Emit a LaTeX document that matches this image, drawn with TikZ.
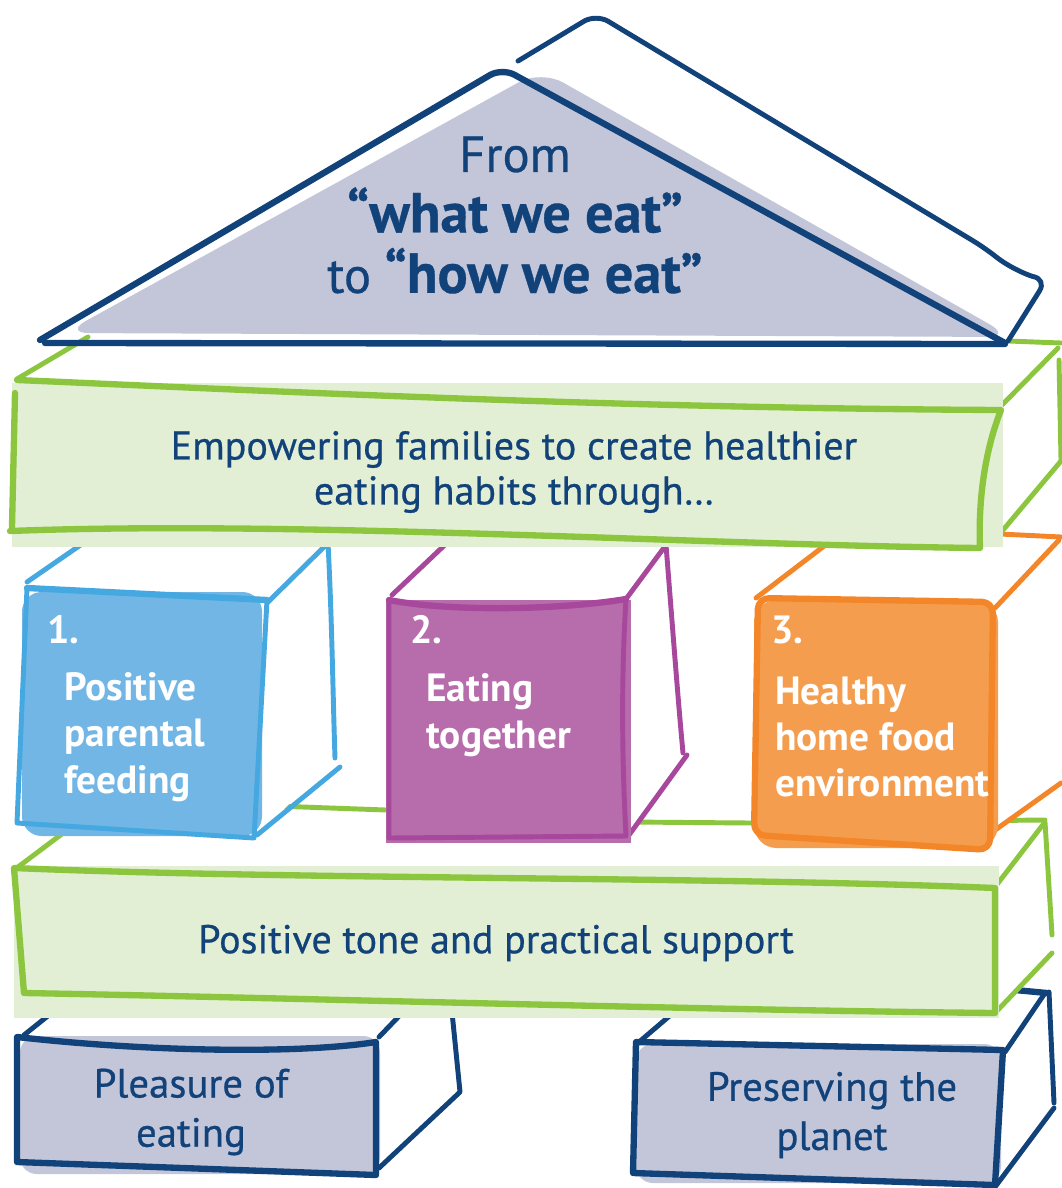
\documentclass[tikz,border=0pt]{standalone}
\usepackage{fontspec}
\setmainfont{PT Sans}
\newfontfamily\inkfont{PT Sans}[FakeBold=0.6]
\usetikzlibrary{calc}
\definecolor{navyink}{HTML}{11427A}
\definecolor{roofgrey}{HTML}{C3C6D9}
\definecolor{slabline}{HTML}{8CC63F}
\definecolor{slabfill}{HTML}{E2EFD4}
\definecolor{blueline}{HTML}{46A8E0}
\definecolor{bluefill}{HTML}{72B6E5}
\definecolor{purpleline}{HTML}{A7489C}
\definecolor{purplefill}{HTML}{B76CAB}
\definecolor{orangeline}{HTML}{F4862A}
\definecolor{orangefill}{HTML}{F59D4E}
\tikzset{
    sketch/.style={
        line width=3.5pt,
        line cap=round,
        line join=round
    },
    heavy sketch/.style={
        line width=4.5pt,
        line cap=round,
        line join=round
    },
    roof text/.style={
        text=navyink,
        align=center,
        inner sep=0pt,
        font=\inkfont\fontsize{36}{43}\selectfont
    },
    slab text/.style={
        text=navyink,
        align=center,
        inner sep=0pt,
        font=\inkfont\fontsize{28.5}{32}\selectfont
    },
    box text/.style={
        slab text,
        font=\inkfont\fontsize{29}{35}\selectfont
    },
    pillar text/.style={
        text=white,
        align=left,
        anchor=west,
        inner sep=0pt,
        font=\bfseries\fontsize{28}{33}\selectfont
    },
    pillar number/.style={
        text=white,
        anchor=base west,
        inner sep=0pt,
        font=\bfseries\fontsize{28}{33}\selectfont
    }
}

\begin{document}
\begin{tikzpicture}[x=0.025cm, y=-0.025cm]
                \useasboundingbox (0,0) rectangle (1061,1188);

                % Foundation boxes
                \fill[white] (24,1035) -- (64,1003) -- (452,1012) -- (460,1092) -- (379,1168) -- (17,1162) -- cycle;
                \draw[sketch, navyink] (24,1035) -- (64,1003);
                \draw[sketch, navyink] (379,1037) -- (403,1012);
                \draw[sketch, navyink] (452,1012) -- (460,1092) -- (379,1168);
                \fill[roofgrey, rounded corners=12] (20,1036) rectangle (380,1174);
                \draw[heavy sketch, navyink] (17,1037) .. controls (150,1052) and (300,1054) .. (376,1042) -- (376,1175) -- (17,1162) -- cycle;
                \node[box text] (pleasure) at (191,1112) {Pleasure of\\eating};

                \fill[white] (639,1042) -- (673,1013) -- (1049,992) -- (1054,1105) -- (995,1187) -- (633,1173) -- cycle;
                \draw[sketch, navyink] (639,1042) -- (673,1013);
                \draw[sketch, navyink] (1005,1052) -- (1045,993);
                \draw[heavy sketch, navyink] (1015,990) -- (1047,993);
                \draw[sketch, navyink] (1049,992) -- (1054,1103);
                \draw[sketch, navyink] (1054,1108) -- (995,1187);
                \fill[roofgrey, rounded corners=12] (636,1044) rectangle (1001,1183);
                \draw[heavy sketch, navyink] (636,1042) -- (1003,1050) -- (995,1185) -- (633,1173) -- cycle;
                \node[box text] (planet) at (832,1115) {Preserving the\\planet};

                % Lower slab
                \fill[white] (18,867) -- (107,800) -- (1045,820) -- (1052,952) -- (995,1013) -- cycle;
                \draw[sketch, slabline] (18,867) -- (107,800);
                \draw[sketch, slabline] (107,800) -- (386,810) -- (629,822) -- (751,823) -- (1045,820);
                \draw[sketch, slabline] (995,887) -- (1045,822) -- (1052,935);
                \draw[sketch, slabline] (1052,953) -- (995,1013);
                \fill[slabfill] (14,866) rectangle (999,1018);
                \draw[heavy sketch, slabline] (14,868) .. controls (300,880) and (700,876) .. (995,888) -- (995,1013)
                    .. controls (700,1010) and (300,998) .. (24,993) -- cycle;
                \node[slab text] (support) at (496,943) {Positive tone and practical support};

                % Pillar 1
                \fill[white] (27,582) -- (95,535) -- (328,543) -- (335,760) -- (257,835) -- (17,823) -- cycle;
                \draw[sketch, blueline] (27,582) -- (95,535);
                \draw[sketch, blueline] (284,537) -- (328,543);
                \draw[sketch, blueline] (267,603) -- (328,543) .. controls (332,620) and (333,700) .. (335,758);
                \draw[sketch, blueline] (340,767) -- (257,835);
                \fill[bluefill, rounded corners=14] (22,592) rectangle (262,836);
                \draw[heavy sketch, blueline] (27,588) -- (267,600);
                \draw[sketch, blueline] (27,588) -- (17,823) -- (254,838) -- (267,600);
                \node[pillar number] (one) at (47,643) {1.};
                \node[pillar text] (feeding) at (64,737) {Positive\\parental\\feeding};

                % Pillar 2
                \fill[white] (392,595) -- (450,540) -- (666,543) -- (683,753) -- (629,835) -- (389,838) -- cycle;
                \draw[sketch, purpleline] (392,595) -- (450,540);
                \draw[sketch, purpleline] (626,599) -- (666,545) .. controls (672,620) and (678,700) .. (683,753);
                \draw[sketch, purpleline] (687,755) -- (629,835);
                \fill[purplefill] (386,600) rectangle (631,843);
                \draw[heavy sketch, purpleline] (389,600) .. controls (450,612) and (560,610) .. (626,599);
                \draw[sketch, purpleline] (389,600) -- (389,838) -- (626,836) .. controls (622,760) and (621,680) .. (626,599);
                \node[pillar number] (two) at (410,643) {2.};
                \node[pillar text] (together) at (426,715) {Eating\\together};

                % Pillar 3
                \fill[white] (756,598) -- (832,540) -- (1061,537) -- (1061,783) -- (991,835) -- (754,832) -- cycle;
                \draw[sketch, orangeline] (756,598) -- (832,540);
                \draw[sketch, orangeline] (1000,534) -- (1061,537);
                \draw[sketch, orangeline] (995,608) -- (1059,540);
                \draw[sketch, orangeline] (991,833) -- (1061,783);
                \fill[orangefill, rounded corners=16] (754,600) rectangle (998,848);
                \draw[heavy sketch, orangeline, rounded corners=8] (758,598) -- (993,602) -- (990,850) -- (754,835) -- cycle;
                \node[pillar number] (three) at (771,643) {3.};
                \node[pillar text] (environment) at (775,737) {Healthy\\home food\\environment};

                % Upper slab
                \fill[white] (17,379) -- (88,337) -- (1061,343) -- (1061,461) -- (998,536) -- (1000,407) -- cycle;
                \draw[sketch, slabline] (17,379) -- (88,337);
                \draw[sketch, slabline] (1008,341) -- (1061,343);
                \draw[sketch, slabline] (1000,407) -- (1058,348);
                \draw[sketch, slabline] (1059,360) -- (1061,460);
                \draw[sketch, slabline] (998,536) -- (1061,461);
                \fill[slabfill] (12,383) rectangle (1003,547);
                \draw[heavy sketch, slabline] (17,380) .. controls (250,390) and (600,408) .. (1001,410)
                    .. controls (985,450) and (978,500) .. (980,548)
                    .. controls (700,545) and (300,520) .. (10,531);
                \draw[heavy sketch, slabline] (15,393) -- (12,527);
                \node[slab text] (families) at (514,472) {Empowering families to create healthier\\eating habits through…};

                % Roof
                \draw[sketch, navyink, rounded corners=10] (518,61) -- (596,14) -- (985,248)
                    .. controls (1010,268) and (1030,276) .. (1047,279) -- (1008,341);
                \fill[roofgrey, rounded corners=18] (64,333) -- (541,70) -- (1012,337) -- cycle;
                \draw[heavy sketch, navyink, rounded corners=10] (40,340) -- (502,68) -- (1005,343);
                \draw[heavy sketch, navyink] (45,343) -- (1005,344);
                \node[roof text] (motto) at (515,215) {From\\{\bfseries\fontsize{40}{43}\selectfont “what we eat”}\\to {\bfseries\fontsize{40}{43}\selectfont “how we eat”}};
\end{tikzpicture}
\end{document}
